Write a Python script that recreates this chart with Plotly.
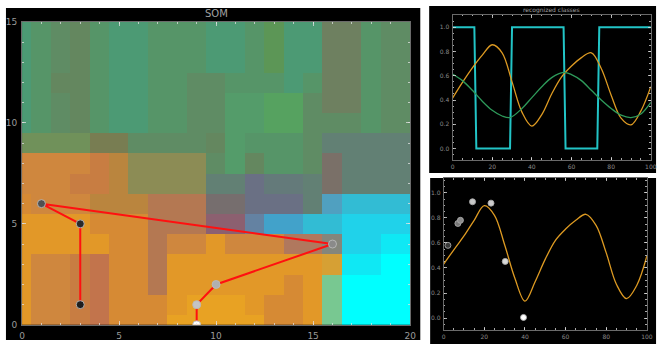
import plotly.graph_objects as go

W, H = 666, 349

# ---------------- SOM map data (cell colours, rows from y=15 down to y=0) ----------------
palette = {
    'T': (76, 154, 116), 'G': (86, 149, 104), 'g': (95, 140, 100), 'B': (100, 135, 95),
    'H': (84, 156, 106), 'E': (86, 162, 96), 'F': (92, 150, 86), 'K': (110, 128, 96),
    'V': (112, 145, 90), 'W': (120, 125, 82), 'N': (140, 140, 85), 'j': (98, 128, 116),
    'k': (122, 112, 104), 'i': (106, 112, 132), 'n': (100, 122, 122), 'h': (118, 110, 110),
    's': (100, 130, 162), 'S': (80, 160, 192), 'b': (66, 162, 202), 'c': (50, 188, 212),
    'd': (32, 210, 234), 'e': (15, 232, 244), 'C': (0, 255, 255), 'L': (120, 200, 145),
    'o': (226, 152, 40), 'O': (232, 162, 35), 'p': (207, 135, 62), 'q': (200, 125, 66),
    'Q': (194, 116, 76), 'r': (180, 120, 82), 't': (186, 133, 62), 'u': (214, 138, 52),
    'm': (140, 96, 112), 'y': (214, 160, 52), 'z': (132, 134, 124), 'l': (176, 120, 94),
}
som_rows_top_down = [
    "TGgBGTTGGGTTGFTTKKGgg",  # y=15
    "TGgBGTTGGGTTGFTTKKGgg",  # y=14
    "TGgBGTTGGGTTGFTTKKGgg",  # y=13
    "TGBBGTTGGggGGGTGKKGgg",  # y=12
    "TGgBGTTGGggHHEEgKKGgg",  # y=11
    "TGgBGTTGGggHHEEgggGgg",  # y=10
    "VVVVWWggggBHGGGgjjjjj",  # y=9
    "ppppqtNNNNgHBGGgkjjjj",  # y=8
    "pppqqtNNNNjjinnjkjjjj",  # y=7
    "uppptttrrrhhiiijScccc",  # y=6
    "oooouuurrrmmsbbccdddd",  # y=5
    "ooooouurppopppllzddee",  # y=4
    "oppqQuurooooooooyeeCC",  # y=3
    "oppqQuuroooooouoLCCCC",  # y=2
    "oppqQuuuoOOOouuoLCCCC",  # y=1
    "oppqQuuuOOOOOuuoLCCCC",  # y=0
]

# path of best matching units on the map
path_x = [3, 3, 1, 16, 10, 9, 9]
path_y = [1, 5, 6, 4, 2, 1, 0]
path_colors = ['#1e1e1e', '#2a2a2a', '#505050', '#8a8a8a', '#b0b0b0', '#c4c4c4', '#ffffff']

# ---------------- recognized classes (top right) ----------------
class_x = [0, 11, 12, 29, 30, 56, 57, 73, 74, 100]
class_y = [1, 1, 0, 0, 1, 1, 0, 0, 1, 1]

orange_x = [0, 5, 10, 15, 20, 25, 30, 35, 40, 45, 50, 55, 60, 65, 70, 75, 80, 85, 90, 95, 100]
orange_top = [0.415, 0.545, 0.665, 0.77, 0.856, 0.79, 0.55, 0.30, 0.185, 0.28, 0.45, 0.59, 0.68,
              0.75, 0.79, 0.66, 0.44, 0.25, 0.195, 0.31, 0.51]

green_x = [0, 5, 10, 15, 20, 25, 29, 35, 40, 45, 50, 56, 60, 65, 70, 75, 80, 85, 90, 95, 100]
green_top = [0.615, 0.56, 0.48, 0.39, 0.315, 0.268, 0.255, 0.33, 0.42, 0.51, 0.585, 0.628, 0.61,
             0.56, 0.48, 0.40, 0.33, 0.275, 0.255, 0.285, 0.38]

# ---------------- bottom right ----------------
orange_bot = [0.43, 0.545, 0.655, 0.78, 0.897, 0.82, 0.585, 0.32, 0.135, 0.29, 0.47, 0.62, 0.71,
              0.78, 0.828, 0.74, 0.52, 0.27, 0.155, 0.26, 0.495]
pts_x = [2.1, 7.0, 8.25, 14.2, 23.3, 30.3, 39.3]
pts_y = [0.58, 0.755, 0.78, 0.928, 0.917, 0.452, 0.005]
pts_colors = ['#3a3a3a', '#777777', '#8c8c8c', '#c8c8c8', '#cccccc', '#d8d8d8', '#ffffff']

# ---------------- build figure ----------------
z_img = [[list(palette[ch]) for ch in row] for row in reversed(som_rows_top_down)]

fig = go.Figure()
fig.add_trace(go.Image(z=z_img, x0=0, dx=1, y0=0, dy=1, xaxis='x', yaxis='y', hoverinfo='skip'))
fig.add_trace(go.Scatter(
    x=path_x, y=path_y, mode='lines+markers', xaxis='x', yaxis='y',
    line=dict(color='#ff1010', width=2),
    marker=dict(size=8, color=path_colors, line=dict(color='rgba(185,185,185,0.9)', width=1)),
    showlegend=False))

fig.add_trace(go.Scatter(x=class_x, y=class_y, mode='lines', xaxis='x2', yaxis='y2',
                         line=dict(color='#22c4c6', width=2), showlegend=False))
fig.add_trace(go.Scatter(x=orange_x, y=orange_top, mode='lines', xaxis='x2', yaxis='y2',
                         line=dict(color='#dd9a22', width=1.3, shape='spline', smoothing=1),
                         showlegend=False))
fig.add_trace(go.Scatter(x=green_x, y=green_top, mode='lines', xaxis='x2', yaxis='y2',
                         line=dict(color='#2e9a5a', width=1.3, shape='spline', smoothing=1),
                         showlegend=False))

fig.add_trace(go.Scatter(x=orange_x, y=orange_bot, mode='lines', xaxis='x3', yaxis='y3',
                         line=dict(color='#dd9a22', width=1.3, shape='spline', smoothing=1),
                         showlegend=False))
fig.add_trace(go.Scatter(x=pts_x, y=pts_y, mode='markers', xaxis='x3', yaxis='y3',
                         marker=dict(size=6, color=pts_colors,
                                     line=dict(color='rgba(170,170,170,0.9)', width=1)),
                         showlegend=False))

tickc = 'rgba(225,225,225,0.75)'
fnt_big = dict(family='DejaVu Sans', size=9, color='#9a9a9a')
fnt_small = dict(family='DejaVu Sans', size=6, color='#8a8a8a')


def ax(domain, rng, tickvals, font, minor_dtick, anchor, ticktext=None, major_len=4, minor_len=2):
    d = dict(domain=domain, range=rng, autorange=False, tickvals=tickvals, ticks='inside',
             ticklen=major_len, tickcolor=tickc, tickwidth=1,
             minor=dict(dtick=minor_dtick, ticks='inside', ticklen=minor_len, tickcolor=tickc),
             showline=True, linecolor='#6a6a6a', linewidth=1, mirror='ticks',
             showgrid=False, zeroline=False, tickfont=font, anchor=anchor)
    if ticktext is not None:
        d['ticktext'] = ticktext
    return d


fig.update_layout(
    width=W, height=H, margin=dict(l=0, r=0, t=0, b=0),
    paper_bgcolor='white', plot_bgcolor='black', showlegend=False,
    xaxis=ax([19.3 / W, 412.7 / W], [0, 20], [0, 5, 10, 15, 20], fnt_big, 1, 'y'),
    yaxis=ax([1 - 329.3 / H, 1 - 17.3 / H], [0, 15], [0, 5, 10, 15], fnt_big, 1, 'x'),
    xaxis2=ax([455.7 / W, 656.7 / W], [0, 100], [0, 20, 40, 60, 80, 100], fnt_small, 5, 'y2',
              major_len=3, minor_len=1.5),
    yaxis2=ax([1 - 159.3 / H, 1 - 10 / H], [-0.093, 1.104], [0, 0.2, 0.4, 0.6, 0.8, 1.0], fnt_small,
              0.05, 'x2', ticktext=['0.0', '0.2', '0.4', '0.6', '0.8', '1.0'],
              major_len=3, minor_len=1.5),
    xaxis3=ax([446.7 / W, 652.7 / W], [0, 100], [0, 20, 40, 60, 80, 100], fnt_small, 5, 'y3',
              major_len=3, minor_len=1.5),
    yaxis3=ax([1 - 334.3 / H, 1 - 178.3 / H], [-0.093, 1.116], [0, 0.2, 0.4, 0.6, 0.8, 1.0], fnt_small,
              0.05, 'x3', ticktext=['0.0', '0.2', '0.4', '0.6', '0.8', '1.0'],
              major_len=3, minor_len=1.5),
)
fig.layout.yaxis.scaleanchor = False
fig.layout.xaxis.ticklabelstandoff = 2
fig.layout.yaxis.ticklabelstandoff = 2
for a in ['xaxis2', 'yaxis2', 'xaxis3', 'yaxis3']:
    fig.layout[a].ticklabelstandoff = 1

# black panel backgrounds
panels = [(3, 3, 423, 345), (432, 1, 662, 173), (433, 178, 662, 349)]
for (x0, y0, x1, y1) in panels:
    fig.add_shape(type='rect', xref='paper', yref='paper', x0=x0 / W, x1=x1 / W,
                  y0=1 - y1 / H, y1=1 - y0 / H, fillcolor='black', line=dict(width=0), layer='below')

fig.add_annotation(text='SOM', xref='paper', yref='paper', x=216 / W, y=1 - 9 / H, showarrow=False,
                   font=dict(family='DejaVu Sans', size=10, color='#a0a0a0'), xanchor='center', yanchor='middle')
fig.add_annotation(text='recognized classes', xref='paper', yref='paper', x=556 / W, y=1 - 5.5 / H,
                   showarrow=False, font=dict(family='DejaVu Sans', size=6, color='#a0a0a0'),
                   xanchor='center', yanchor='middle')

fig.write_html('out.html', config={'displayModeBar': False, 'staticPlot': True},
               post_script="document.body.style.margin='0px';document.body.style.padding='0px';"
                           "document.body.style.overflow='hidden';")
